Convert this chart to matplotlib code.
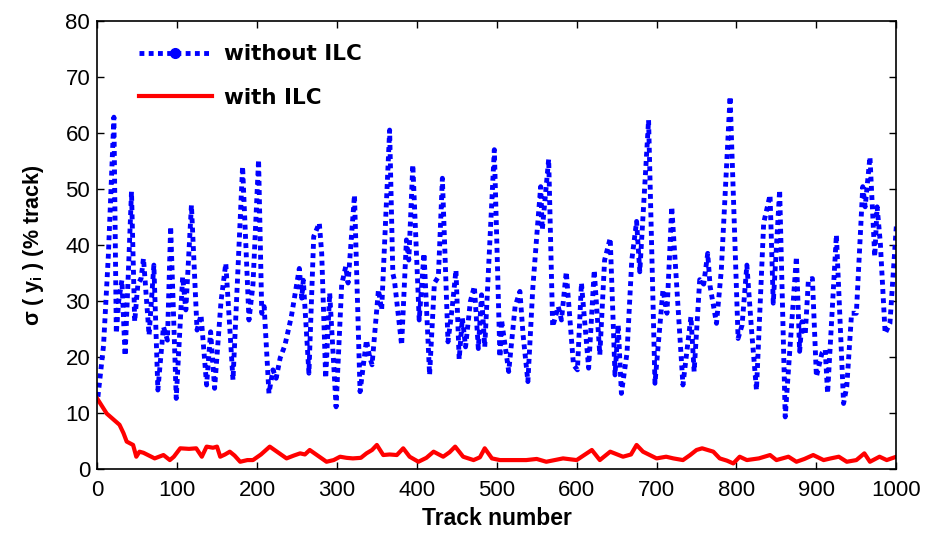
import matplotlib
matplotlib.use("Agg")
import matplotlib.pyplot as plt
from matplotlib.lines import Line2D

# tracking error standard deviation per track, without learning control
track_no_ilc = [1, 8, 14, 21, 24, 27, 31, 35, 43, 47, 51, 55, 58, 65, 71, 76, 83, 88, 92, 99,
                107, 111, 118, 125, 130, 137, 142, 147, 155, 161, 170, 182, 190, 195, 202, 206,
                209, 215, 220, 224, 229, 235, 243, 253, 256, 258, 265, 271, 278, 281, 286, 291,
                299, 306, 311, 314, 322, 329, 337, 341, 344, 352, 356, 366, 370, 372, 381, 387,
                390, 395, 403, 409, 416, 422, 427, 432, 439, 444, 449, 453, 457, 461, 467, 472,
                477, 481, 485, 497, 504, 506, 515, 523, 529, 533, 539, 545, 551, 555, 557, 565,
                570, 577, 581, 587, 596, 601, 606, 615, 622, 629, 635, 642, 648, 652, 656, 663,
                669, 675, 679, 690, 698, 708, 713, 719, 733, 743, 747, 754, 759, 764, 767, 775,
                781, 792, 802, 807, 813, 819, 825, 834, 842, 846, 854, 861, 867, 875, 879, 882,
                886, 890, 895, 900, 907, 911, 914, 925, 934, 938, 944, 950, 958, 961, 967, 973,
                976, 980, 986, 992, 1000]
sigma_no_ilc = [12.9, 22.0, 38.0, 62.8, 24.2, 30.0, 33.7, 20.2, 49.5, 26.3, 33.0, 34.0, 37.6,
                23.9, 36.4, 14.1, 25.4, 23.0, 43.3, 12.6, 34.3, 28.4, 47.1, 24.8, 27.5, 15.0,
                24.5, 14.4, 29.9, 36.7, 15.9, 54.0, 26.6, 32.9, 55.2, 27.8, 29.0, 13.5, 17.7,
                16.2, 19.8, 22.1, 27.2, 35.8, 30.5, 33.7, 17.1, 41.5, 43.9, 38.5, 16.2, 31.4,
                11.1, 32.9, 36.1, 33.2, 48.9, 13.8, 23.0, 20.0, 18.6, 32.0, 28.4, 60.5, 34.9,
                33.7, 22.1, 40.9, 37.3, 54.3, 26.6, 38.5, 16.8, 33.2, 34.3, 51.9, 22.7, 28.4,
                35.5, 19.6, 26.9, 21.8, 29.9, 32.6, 21.5, 31.1, 21.8, 57.0, 20.0, 26.6, 17.4,
                29.0, 31.7, 23.9, 15.6, 32.0, 43.3, 50.4, 42.7, 55.3, 25.4, 29.0, 26.6, 35.2,
                18.6, 17.7, 33.2, 18.0, 35.5, 20.4, 37.3, 41.2, 16.8, 25.7, 13.5, 20.7, 37.3,
                44.2, 35.2, 62.3, 15.3, 32.0, 27.8, 46.8, 15.0, 27.2, 17.4, 33.8, 33.0, 38.5,
                32.6, 26.0, 35.5, 66.5, 23.3, 25.7, 36.4, 24.5, 14.1, 43.9, 48.9, 29.6, 49.8,
                9.3, 21.8, 37.9, 21.0, 26.3, 23.9, 33.8, 34.0, 16.5, 20.7, 21.3, 13.5, 41.8,
                11.7, 14.7, 27.8, 27.8, 50.4, 46.8, 55.7, 37.9, 46.8, 40.3, 24.2, 26.0, 43.3]

# with iterative learning control
track_ilc = [0, 12, 28, 33, 37, 45, 49, 53, 58, 72, 83, 91, 96, 104, 115, 124, 131, 137, 145,
             150, 154, 160, 166, 172, 179, 188, 195, 205, 216, 225, 237, 246, 254, 260, 266,
             275, 287, 296, 304, 312, 320, 330, 337, 344, 350, 358, 366, 375, 383, 391, 402,
             412, 421, 433, 441, 448, 458, 471, 479, 485, 494, 504, 520, 537, 550, 562, 583,
             600, 619, 629, 642, 658, 668, 675, 683, 700, 712, 721, 733, 742, 750, 757, 771,
             779, 788, 796, 804, 813, 828, 842, 850, 865, 875, 885, 896, 909, 918, 928, 938,
             950, 960, 967, 979, 988, 1000]
sigma_ilc = [12.6, 9.9, 7.9, 6.4, 4.9, 4.3, 2.2, 3.1, 2.9, 1.9, 2.5, 1.6, 2.2, 3.7, 3.6, 3.7,
             2.2, 4.0, 3.8, 4.0, 2.2, 2.6, 3.1, 2.4, 1.3, 1.6, 1.6, 2.6, 4.0, 3.1, 1.9, 2.4,
             2.8, 2.6, 3.4, 2.5, 1.3, 1.6, 2.2, 2.0, 1.9, 2.0, 2.8, 3.4, 4.3, 2.5, 2.6, 2.5,
             3.7, 2.2, 1.3, 2.0, 3.1, 2.2, 3.0, 4.0, 2.2, 1.6, 2.1, 3.7, 1.9, 1.6, 1.6, 1.6,
             1.8, 1.3, 1.9, 1.6, 3.4, 1.6, 3.1, 2.2, 2.6, 4.3, 3.1, 1.9, 2.2, 1.9, 1.6, 2.5,
             3.4, 3.7, 3.1, 1.9, 1.5, 1.0, 2.2, 1.6, 1.9, 2.5, 1.6, 2.2, 1.3, 1.8, 2.5, 1.6,
             1.9, 2.2, 1.3, 1.6, 2.8, 1.3, 2.2, 1.6, 2.2]

x_ticks = list(range(0, 1001, 100))
y_ticks = list(range(0, 81, 10))

blue = (0, 0, 1)
red = (1, 0, 0)
dots = (0, (1.0, 0.9))

plt.rcParams['font.family'] = ['Liberation Sans', 'DejaVu Sans']
plt.rcParams['mathtext.fontset'] = 'custom'
plt.rcParams['mathtext.rm'] = 'Liberation Sans:bold'

fig = plt.figure(figsize=(9.25, 5.33), dpi=100)
ax = fig.add_axes([0.105, 0.12, 0.864, 0.841])

ax.plot(track_no_ilc, sigma_no_ilc, color=blue, lw=3.5, linestyle=dots,
        dash_capstyle='butt', solid_joinstyle='round')
ax.plot(track_ilc, sigma_ilc, color=red, lw=3)

ax.set_xlim(0, 1000)
ax.set_ylim(0, 80)
ax.set_xticks(x_ticks)
ax.set_yticks(y_ticks)
ax.tick_params(direction='in', length=5, width=1, labelsize=16, top=True, right=True)
ax.tick_params(axis='x', pad=8)
ax.tick_params(axis='y', pad=5)
for s in ax.spines.values():
    s.set_linewidth(1.2)

ax.set_xlabel("Track number", fontsize=16.5, fontweight='bold', labelpad=4)
ax.set_ylabel(r"σ ( y$_\mathrm{i}$ ) (% track)", fontsize=15.5, fontweight='bold',
              labelpad=14)

# legend marker sits in the middle of the dotted sample
leg_dotted = Line2D([0, 0.5, 1], [0, 0, 0], color=blue, lw=3.5, linestyle=dots,
                    marker='o', markersize=7, markevery=[1], dash_capstyle='butt')
leg_solid = Line2D([], [], color=red, lw=3)
ax.legend([leg_dotted, leg_solid], ["without ILC", "with ILC"], loc='upper left',
          bbox_to_anchor=(0.052, 0.948), frameon=False, borderpad=0, borderaxespad=0,
          handlelength=3.4, handletextpad=0.55, labelspacing=1.1,
          prop={'family': 'DejaVu Sans', 'weight': 'bold', 'size': 15.5})

fig.savefig("out.png", dpi=100)
